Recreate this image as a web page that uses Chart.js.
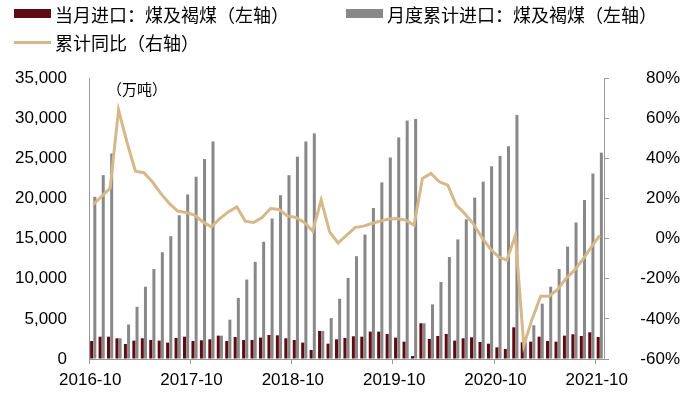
<!DOCTYPE html>
<html>
<head>
<meta charset="utf-8">
<script src="https://cdn.jsdelivr.net/npm/chart.js@4"></script>
<style>
  body { margin: 0; background: #fff; }
  #wrap { position: relative; width: 680px; height: 396px; }
  #chart { position: absolute; left: 0; top: 0; }
  .lg { position: absolute; font-family: "Noto Sans CJK SC", sans-serif; font-size: 18px; line-height: 18px; color: #000; white-space: nowrap; }
  .box { position: absolute; }
  #unit { position: absolute; left: 107px; top: 81px; font-family: "Noto Sans CJK SC", sans-serif; font-size: 15px; line-height: 15px; }
</style>
</head>
<body>
<div id="wrap">
  <canvas id="chart" width="680" height="396"></canvas>
  <div class="box" style="left:14px;top:9px;width:37px;height:9px;background:#5e0b12"></div>
  <div class="lg" id="lg0" style="left:55px;top:5px"></div>
  <div class="box" style="left:346px;top:9px;width:37px;height:9px;background:#888888"></div>
  <div class="lg" id="lg1" style="left:387px;top:5px"></div>
  <div class="box" style="left:14px;top:41px;width:37px;height:3px;background:#d6b98a"></div>
  <div class="lg" id="lg2" style="left:55px;top:33px"></div>
  <div id="unit">（万吨）</div>
</div>
<script>
const months = [
  '2016-10', '2016-11', '2016-12',
  '2017-01', '2017-02', '2017-03', '2017-04', '2017-05', '2017-06', '2017-07', '2017-08', '2017-09', '2017-10', '2017-11', '2017-12',
  '2018-01', '2018-02', '2018-03', '2018-04', '2018-05', '2018-06', '2018-07', '2018-08', '2018-09', '2018-10', '2018-11', '2018-12',
  '2019-01', '2019-02', '2019-03', '2019-04', '2019-05', '2019-06', '2019-07', '2019-08', '2019-09', '2019-10', '2019-11', '2019-12',
  '2020-01', '2020-02', '2020-03', '2020-04', '2020-05', '2020-06', '2020-07', '2020-08', '2020-09', '2020-10', '2020-11', '2020-12',
  '2021-01', '2021-02', '2021-03', '2021-04', '2021-05', '2021-06', '2021-07', '2021-08', '2021-09', '2021-10'
];

const seriesNames = ['当月进口：煤及褐煤（左轴）', '月度累计进口：煤及褐煤（左轴）', '累计同比（右轴）'];

// 万吨
const monthly = [
  2240, 2780, 2780,
  2580, 1870, 2290, 2580, 2370, 2290, 2040, 2620, 2780, 2240, 2330, 2450,
  2910, 2240, 2740, 2370, 2370, 2660, 2990, 2950, 2580, 2370, 2040, 1120,
  3490, 1910, 2450, 2620, 2830, 2780, 3410, 3410, 3120, 2660, 2160, 370,
  4450, 2500, 2870, 3120, 2290, 2580, 2700, 2120, 1910, 1450, 1250, 3950,
  2080, 2160, 2780, 2240, 2160, 2910, 3080, 2870, 3330, 2740
];

const cumulative = [
  20200, 22900, 25600,
  2580, 4300, 6500, 9000, 11200, 13300, 15300, 17900, 20500, 22700, 24900, 27100,
  2910, 4900, 7600, 9900, 12100, 14600, 17500, 20400, 22900, 25200, 27100, 28100,
  3490, 5100, 7500, 10100, 12800, 15500, 18800, 22000, 25100, 27600, 29700, 29900,
  4450, 6800, 9600, 12700, 14900, 17400, 20100, 22100, 24000, 25300, 26500, 30400,
  2080, 4200, 6900, 9000, 11200, 14000, 17000, 19800, 23100, 25700
];

// %
const yoy = [
  17, 21, 25,
  64, 48, 33.6, 32.8, 28.3, 22.5, 17.5, 13.7, 13, 11.7, 8.3, 5.8,
  10, 13.3, 15.8, 8.7, 8, 10.5, 15, 14.5, 11.3, 10.5, 8, 3.7,
  19.2, 3.3, -2.2, 1.6, 5.5, 6.2, 7.5, 8.7, 9.7, 10, 9.2, 6.7,
  30, 32.5, 28.3, 26.6, 16.7, 12.5, 7.5, 0.8, -5, -9.1, -10.8, 1.6,
  -53.2, -39.9, -28.7, -28.7, -25.4, -19.9, -15.8, -10.4, -4.1, 1.6
];

document.getElementById('lg0').textContent = seriesNames[0];
document.getElementById('lg1').textContent = seriesNames[1];
document.getElementById('lg2').textContent = seriesNames[2];

const axisFont = { family: '"Liberation Sans", Arial, sans-serif', size: 17 };
const axisGray = '#999999';

new Chart(document.getElementById('chart'), {
  type: 'bar',
  data: {
    labels: months,
    datasets: [
      {
        type: 'line',
        label: seriesNames[2],
        data: yoy,
        yAxisID: 'y1',
        borderColor: '#d6b98a',
        borderWidth: 3,
        pointRadius: 0,
        tension: 0,
        order: 0
      },
      {
        label: seriesNames[0],
        data: monthly,
        yAxisID: 'y',
        backgroundColor: '#5e0b12',
        categoryPercentage: 0.75,
        barPercentage: 0.95,
        order: 1
      },
      {
        label: seriesNames[1],
        data: cumulative,
        yAxisID: 'y',
        backgroundColor: '#888888',
        categoryPercentage: 0.75,
        barPercentage: 0.95,
        order: 1
      }
    ]
  },
  options: {
    responsive: false,
    animation: false,
    layout: { padding: { top: 78, left: 0, right: 0, bottom: 0 } },
    plugins: {
      legend: { display: false },
      tooltip: { enabled: false }
    },
    scales: {
      x: {
        offset: true,
        grid: {
          offset: true,
          drawOnChartArea: false,
          drawTicks: true,
          tickLength: 5,
          color: ctx => (ctx.index % 12 === 0 ? axisGray : 'rgba(0,0,0,0)')
        },
        border: { color: axisGray },
        ticks: {
          autoSkip: false,
          maxRotation: 0,
          minRotation: 0,
          padding: 6,
          labelOffset: -3,
          color: '#000',
          font: axisFont,
          callback: (v, i) => (i % 12 === 0 ? months[i] : '')
        },
        afterFit: s => { s.height = 37; }
      },
      y: {
        position: 'left',
        min: 0,
        max: 35000,
        grid: { drawOnChartArea: false, drawTicks: false },
        border: { color: axisGray },
        ticks: {
          stepSize: 5000,
          padding: 22,
          color: '#000',
          font: axisFont,
          callback: v => v.toLocaleString('en-US')
        },
        afterFit: s => { s.width = 89; }
      },
      y1: {
        position: 'right',
        min: -60,
        max: 80,
        grid: { drawOnChartArea: false, drawTicks: true, tickLength: 5, color: axisGray },
        border: { color: axisGray },
        ticks: {
          stepSize: 20,
          padding: 3,
          crossAlign: 'far',
          color: '#000',
          font: axisFont,
          callback: v => v + '%'
        },
        afterFit: s => { s.width = 76; }
      }
    }
  }
});
</script>
</body>
</html>
